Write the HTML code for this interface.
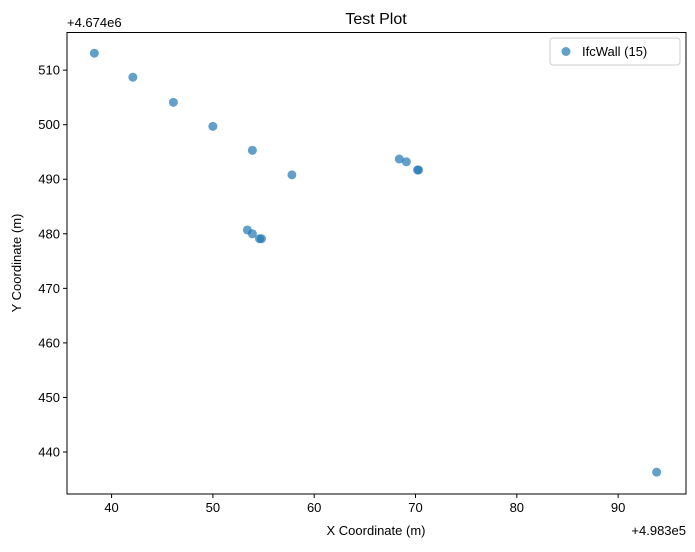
<!DOCTYPE html>
<html><head><meta charset="utf-8"><style>
body{margin:0;background:#fff;}
svg text{font-family:"Liberation Sans","DejaVu Sans",sans-serif;fill:#000;}
</style></head><body>
<svg id="chart" width="695" height="547" xmlns="http://www.w3.org/2000/svg">
<rect width="695" height="547" fill="#fff"/>
<text x="376" y="24" font-size="16" text-anchor="middle">Test Plot</text>
<g id="marks"></g>
<g id="axes"></g>
<rect x="67" y="32.5" width="619" height="461.5" fill="none" stroke="#000" stroke-width="1"/>
<text x="67" y="27" font-size="13">+4.674e6</text>
<text x="686" y="535" font-size="13" text-anchor="end">+4.983e5</text>
<text x="376" y="535" font-size="13" text-anchor="middle">X Coordinate (m)</text>
<text x="21" y="263" font-size="13" text-anchor="middle" transform="rotate(-90 21 263)">Y Coordinate (m)</text>
<g>
<rect x="550" y="38" width="130" height="27" rx="3" fill="#fff" stroke="#ccc"/>
<circle cx="566" cy="51.5" r="4.5" fill="#1f77b4" fill-opacity="0.7"/>
<text x="582" y="56" font-size="13">IfcWall (15)</text>
</g>
</svg>
<script>
const xValues=[38.3,42.1,46.1,50.0,53.9,57.8,53.4,53.9,54.6,54.8,68.4,69.1,70.2,70.3,93.8];
const yValues=[513.1,508.7,504.1,499.7,495.3,490.8,480.7,480.0,479.1,479.1,493.7,493.2,491.7,491.7,436.3];
const xTicks=[40,50,60,70,80,90];
const yTicks=[440,450,460,470,480,490,500,510];
const xMin=35.6,xMax=96.7,yMin=432.3,yMax=516.9;
const L=67,R=686,T=32.5,B=494;
const sx=v=>L+(v-xMin)/(xMax-xMin)*(R-L);
const sy=v=>B-(v-yMin)/(yMax-yMin)*(B-T);
const NS="http://www.w3.org/2000/svg";
const marks=document.getElementById('marks');
const axes=document.getElementById('axes');
xValues.forEach((x,i)=>{
 const c=document.createElementNS(NS,'circle');
 c.setAttribute('cx',sx(x));c.setAttribute('cy',sy(yValues[i]));c.setAttribute('r',4.5);
 c.setAttribute('fill','#1f77b4');c.setAttribute('fill-opacity','0.7');
 
 
 marks.appendChild(c);
});
xTicks.forEach(t=>{
 const l=document.createElementNS(NS,'line');
 l.setAttribute('x1',sx(t));l.setAttribute('x2',sx(t));l.setAttribute('y1',B);l.setAttribute('y2',B+4);l.setAttribute('stroke','#000');
 
 
 axes.appendChild(l);
 const tx=document.createElementNS(NS,'text');
 tx.setAttribute('x',sx(t));tx.setAttribute('y',B+18);tx.setAttribute('font-size','13');tx.setAttribute('text-anchor','middle');
 tx.textContent=t;
 
 
 axes.appendChild(tx);
});
yTicks.forEach(t=>{
 const l=document.createElementNS(NS,'line');
 l.setAttribute('x1',L-4);l.setAttribute('x2',L);l.setAttribute('y1',sy(t));l.setAttribute('y2',sy(t));l.setAttribute('stroke','#000');
 
 
 axes.appendChild(l);
 const tx=document.createElementNS(NS,'text');
 tx.setAttribute('x',L-7);tx.setAttribute('y',sy(t)+4.5);tx.setAttribute('font-size','13');tx.setAttribute('text-anchor','end');
 tx.textContent=t;
 
 
 axes.appendChild(tx);
});
</script>
</body></html>
